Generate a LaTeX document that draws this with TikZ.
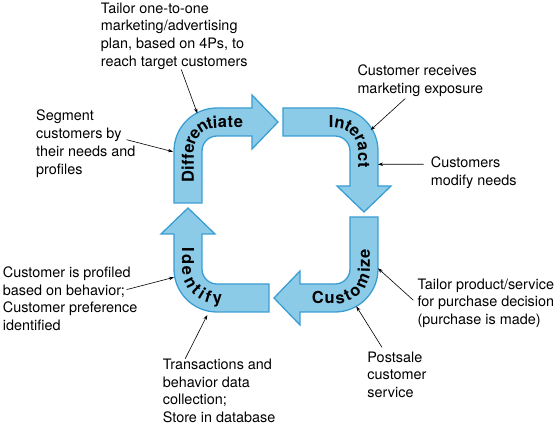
\documentclass[tikz,border=0pt]{standalone}
\usepackage{fontspec}
\setmainfont{TeX Gyre Heros}
\usetikzlibrary{arrows.meta, decorations.text}
\definecolor{skyfill}{HTML}{8CCBE8}
\definecolor{skyedge}{HTML}{3A9ED2}

\begin{document}
\begin{tikzpicture}[x=1pt, y=1pt,
            bent/.style = {fill=skyfill, draw=skyedge, line width=1.3pt, line join=miter},
            note/.style = {align=left, inner sep=0pt, anchor=west, font=\fontsize{14.4}{17.7}\selectfont},
            pointer/.style = {line width=0.6pt, -{Stealth[length=5pt, width=3.5pt]}},
            along/.style = {decorate, decoration={text along path, text align={fit to path}, raise=-5.9pt,
                text={|\fontsize{16.5}{19}\selectfont\bfseries|#1}}},
            ]
            \useasboundingbox (-276,-221) rectangle (284,210);

            % the four bent arrows, turned round the middle
            \foreach \turn in {0,-90,-180,-270}
                \draw[bent, rotate=\turn] (-102,7) -- (-102,59) arc[start angle=180, end angle=90, radius=43pt]
                    -- (-24,102) -- (-24,115) -- (2,88) -- (-24,61) -- (-24,74) -- (-59,74)
                    arc[start angle=90, end angle=180, radius=15pt] -- (-74,7) -- cycle;

            \path[along=Differentiate] (-88,27) -- (-88,59) arc[start angle=180, end angle=90, radius=29pt] -- (-33,88);
            \path[along=Interact] (53,88) -- (59,88) arc[start angle=90, end angle=0, radius=29pt] -- (88,42);
            \path[along=Customize] (36,-88) -- (59,-88) arc[start angle=-90, end angle=0, radius=29pt] -- (88,-39);
            \path[along=Identify] (-88,-38) -- (-88,-59) arc[start angle=180, end angle=270, radius=29pt] -- (-54,-88);

            \node[note] (tailor)   at (-175.3,174)  {Tailor one-to-one\\marketing/advertising\\plan, based on 4Ps, to\\reach target customers};
            \node[note] (segment)  at (-240,66.3)   {Segment\\customers by\\their needs and\\profiles};
            \node[note] (receives) at (81.3,129.5)  {Customer receives\\marketing exposure};
            \node[note] (modify)   at (154.7,37.1)  {Customers\\modify needs};
            \node[note] (purchase) at (141.3,-93.2) {Tailor product/service\\for purchase decision\\(purchase is made)};
            \node[note] (postsale) at (91.3,-164.6) {Postsale\\customer\\service};
            \node[note] (profiled) at (-273.3,-88.6) {Customer is profiled\\based on behavior;\\Customer preference\\identified};
            \node[note] (transact) at (-113.3,-180.9) {Transactions and\\behavior data\\collection;\\Store in database};

            \coordinate (diffarc)   at (-78.7,96.7);
            \coordinate (diffside)  at (-103,58.3);
            \coordinate (interarc)  at (94.7,80);
            \coordinate (interside) at (102,45.7);
            \coordinate (custside)  at (102,-58.3);
            \coordinate (custarc)   at (80.3,-96.3);
            \coordinate (identside) at (-102,-67.3);
            \coordinate (identarc)  at (-68.7,-105);

            \draw[pointer] ([xshift=7pt]tailor.south) -- (diffarc);
            \draw[pointer] ([xshift=-9pt, yshift=4pt]segment.east) -- (diffside);
            \draw[pointer] ([xshift=-15pt, yshift=-2pt]receives.south) -- (interarc);
            \draw[pointer] ([xshift=-7pt, yshift=8.6pt]modify.west) -- (interside);
            \draw[pointer] ([xshift=-4pt, yshift=3pt]purchase.west) -- (custside);
            \draw[pointer] ([xshift=-15pt, yshift=4pt]postsale.north) -- (custarc);
            \draw[pointer] ([xshift=-11pt, yshift=9pt]profiled.east) -- (identside);
            \draw[pointer] ([xshift=-34pt]transact.north) -- (identarc);

        \end{tikzpicture}
\end{document}
